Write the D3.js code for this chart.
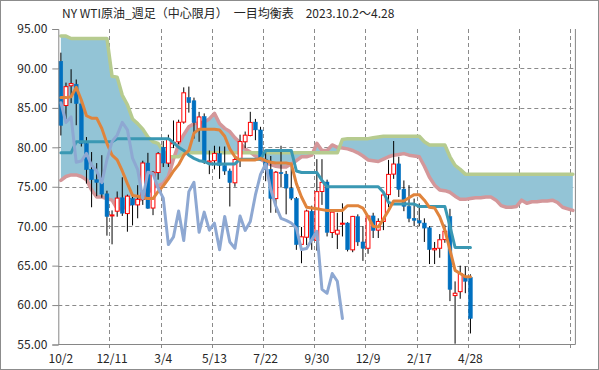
<!DOCTYPE html>
<html>
<head>
<meta charset="utf-8">
<script src="https://cdn.jsdelivr.net/npm/d3@7"></script>
<style>
body{margin:0;background:#fff}
svg text{font-family:"Noto Sans CJK JP","Noto Sans",sans-serif;fill:#262626}
</style>
</head>
<body>
<svg id="chart" width="599" height="370"></svg>
<script>
// x labels every 10 weeks
var dateLabels = ["10/2","12/11","3/4","5/13","7/22","9/30","12/9","2/17","4/28"]
var yTicks = [55,60,65,70,75,80,85,90,95]

// weekly candles 2023.10.2 - 2025.4.28
var open = [90.9,85.3,87.8,88.0,85.5,80.5,77.2,75.9,75.5,74.1,
71.3,71.9,73.6,71.6,73.5,72.7,73.4,78.0,72.3,76.8,
80.0,78.0,80.45,80.7,83.2,86.3,85.9,82.3,83.9,78.1,
78.3,79.2,77.7,77.0,75.5,78.4,80.7,81.5,83.2,82.2,
78.5,77.2,73.5,76.8,76.6,74.8,73.5,67.7,68.6,71.9,
68.2,74.4,75.6,69.2,69.0,70.25,70.4,67.0,71.2,68.0,
67.2,71.3,69.5,70.6,74.0,76.6,77.9,74.7,72.5,71.0,
70.7,70.4,69.8,67.0,67.2,68.3,71.2,61.2,61.7,63.6,
63.5]
var high = [92.0,88.2,89.9,88.6,86.0,81.3,79.4,78.0,79.0,74.5,
72.0,74.4,76.2,74.0,74.0,75.2,78.3,79.3,77.0,79.4,
80.8,81.6,83.4,83.5,87.6,87.7,86.3,84.5,84.3,79.6,
80.2,80.1,80.1,77.3,78.9,81.6,82.0,84.5,83.6,82.6,
79.4,78.9,77.0,80.2,77.0,77.6,73.7,69.9,72.1,72.6,
78.5,78.5,75.9,72.0,71.7,72.9,70.5,71.3,71.5,70.0,
71.4,71.7,71.0,74.2,78.4,80.8,78.8,75.8,75.2,73.5,
72.9,71.0,70.0,68.0,69.0,70.2,72.2,63.0,65.0,64.9,
63.9]
var low = [81.5,83.5,85.6,82.8,80.1,75.4,72.4,73.8,73.6,68.8,
67.7,71.2,71.3,69.3,70.1,71.0,72.7,72.2,71.4,75.9,
77.5,77.5,79.9,80.4,83.0,84.4,81.1,80.7,77.9,76.6,
77.2,76.0,76.5,72.5,75.0,77.5,79.9,81.4,80.9,78.4,
75.7,71.7,71.7,74.9,71.5,73.3,67.0,65.3,67.6,67.0,
66.9,72.7,68.7,68.5,67.1,68.7,66.8,66.7,67.5,65.6,
66.5,68.5,68.5,69.5,72.4,76.0,73.7,71.9,70.5,70.0,
70.0,68.0,65.2,65.2,66.0,67.9,60.5,55.1,60.8,61.5,
56.4]
var close = [82.79,87.69,88.08,85.54,80.51,77.17,75.89,75.54,74.07,71.23,
71.43,73.56,71.65,73.81,72.68,73.41,78.01,72.28,76.84,79.19,
78.01,81.04,80.63,83.17,86.91,85.66,83.14,83.85,78.11,78.26,
79.23,77.72,76.99,75.53,78.45,80.73,81.54,83.16,82.21,78.63,
77.16,73.52,76.84,76.65,74.83,73.55,67.67,68.65,71.92,68.18,
74.38,75.56,69.22,71.78,69.49,70.38,67.02,71.24,68.00,67.20,
71.29,69.46,70.60,73.96,76.57,77.88,74.66,72.53,71.00,70.74,
70.40,69.76,67.04,67.18,68.28,69.36,61.99,61.50,64.00,63.02,
58.30]

// conversion line (orange)
var tenkan = [86.3,86.3,86.4,87.6,86.0,84.0,83.7,83.7,82.4,80.5,
79.0,78.4,77.0,75.4,73.9,73.8,73.6,73.5,73.5,74.4,
75.1,76.0,77.0,77.8,79.0,79.6,81.8,82.3,82.3,82.3,
82.3,82.2,81.4,79.8,78.8,78.4,78.4,78.4,78.4,78.6,
78.3,78.1,78.0,78.0,78.0,77.9,75.4,73.7,72.4,72.3,
72.2,72.1,72.0,72.0,72.0,72.0,72.6,72.6,72.6,72.3,
71.2,70.0,69.9,70.9,72.0,73.2,73.2,73.2,73.6,74.0,
74.0,73.3,72.4,72.3,71.2,69.5,67.0,64.4,64.0,63.6,
63.6]
// base line (teal)
var kijun = [79.3,79.3,79.3,80.7,80.7,80.7,80.7,80.7,80.7,80.7,
80.7,81.1,81.1,81.1,81.1,81.1,81.1,81.1,81.1,81.1,
81.1,81.1,80.6,80.0,79.6,79.0,78.6,78.3,78.2,77.9,
77.9,77.9,77.9,77.9,77.9,78.5,78.5,78.5,78.5,78.5,
79.6,79.6,79.6,79.6,79.6,79.6,77.0,76.8,76.8,76.8,
76.8,75.8,75.0,75.0,75.0,75.0,75.0,75.0,75.0,75.0,
75.0,75.0,75.0,74.3,73.0,72.8,72.8,72.8,72.8,72.8,
72.5,72.5,72.5,72.5,72.5,72.5,70.0,67.3,67.3,67.3,
67.3]
// lagging span (light blue)
var chikou = [85.66,83.14,83.85,78.11,78.26,79.23,77.72,76.99,75.53,78.45,
80.73,81.54,83.16,82.21,78.63,77.16,73.52,76.84,76.65,74.83,
73.55,67.67,68.65,71.92,68.18,74.38,75.56,69.22,71.78,69.49,
70.38,67.02,71.24,68.00,67.20,71.29,69.46,70.60,73.96,76.57,
77.88,74.66,72.53,71.00,70.74,70.40,69.76,67.04,67.18,68.28,
69.36,61.99,61.50,64.00,63.02,58.30]
// leading span A (pink)
var spanA = [75.8,76.3,76.5,76.5,76.3,75.9,74.6,73.7,73.7,73.5,
73.3,72.2,72.2,72.6,73.0,73.2,73.5,74.2,75.0,75.1,
75.4,76.3,78.5,80.4,81.6,82.6,83.0,83.1,83.2,83.6,
84.3,83.0,82.4,82.0,81.2,80.6,79.8,79.4,78.9,78.5,
78.1,77.8,77.6,77.5,77.5,77.9,78.3,78.8,78.8,79.0,
80.5,79.6,79.6,80.3,80.0,79.9,79.8,79.6,79.3,78.9,
78.4,78.3,78.2,78.5,78.8,79.0,79.1,79.2,79.0,78.9,
78.8,77.6,76.2,75.2,74.6,74.5,74.3,73.8,73.4,73.4,
73.5,73.6,73.6,73.7,73.7,73.3,72.6,72.4,72.4,72.5,
73.3,72.9,73.1,73.1,73.2,73.2,73.3,73.0,72.4,72.2,
72.0]
// leading span B (green)
var spanB = [94.1,94.1,93.8,93.8,93.8,93.8,93.8,93.8,93.8,93.8,
89.0,88.9,86.6,85.4,83.6,83.0,82.3,81.3,80.7,80.5,
79.5,78.8,78.8,78.8,79.3,79.3,79.3,79.3,79.3,79.3,
79.3,79.3,79.3,79.3,79.3,79.3,79.3,79.3,79.3,79.3,
79.3,79.3,79.3,79.3,79.3,79.3,79.3,79.3,79.3,79.3,
79.3,79.3,79.3,79.3,79.3,81.0,81.1,81.1,81.1,81.1,
81.1,81.2,81.3,81.4,81.4,81.4,81.4,81.4,81.4,81.4,
81.4,80.7,80.3,80.3,80.3,80.3,78.8,77.7,77.2,76.6,
76.6,76.6,76.6,76.6,76.6,76.6,76.6,76.6,76.6,76.6,
76.6,76.6,76.6,76.6,76.6,76.6,76.6,76.6,76.6,76.6,
76.6]

var screen = {width:599,height:370}
var plot = {left:58.3,right:575.4,top:29,bottom:344.5}
var nCat = 101

var svg = d3.select("#chart")

svg.append("rect")
    .attr("x",0.5).attr("y",0.5)
    .attr("width",screen.width-1).attr("height",screen.height-1)
    .attr("fill","#fff").attr("stroke","#8c8c8c")

var x = d3.scaleBand().domain(d3.range(nCat)).range([plot.left,plot.right])
var xEdge = d3.scaleLinear().domain([0,nCat]).range([plot.left,plot.right])
var y = d3.scaleLinear().domain([55,95]).range([plot.bottom,plot.top])
var cx = function(i){ return x(i)+x.bandwidth()/2 }

// grid
svg.append("g").selectAll("line")
    .data(yTicks.filter(function(d){ return d>55 && d<95 }))
    .enter().append("line")
    .attr("x1",plot.left).attr("x2",plot.right)
    .attr("y1",function(d){ return Math.round(y(d))+0.5 })
    .attr("y2",function(d){ return Math.round(y(d))+0.5 })
    .attr("stroke","#8a8a8a").attr("stroke-dasharray","4,3")

svg.append("g").selectAll("line")
    .data(d3.range(10,nCat,10))
    .enter().append("line")
    .attr("x1",function(d){ return Math.round(xEdge(d))+0.5 })
    .attr("x2",function(d){ return Math.round(xEdge(d))+0.5 })
    .attr("y1",plot.top).attr("y2",plot.bottom+5)
    .attr("stroke","#8a8a8a").attr("stroke-dasharray","4,3")

// cloud
var idx = d3.range(nCat)
svg.append("path")
    .datum(idx)
    .attr("fill","#93c4d6")
    .attr("d",d3.area()
        .x(function(i){ return cx(i) })
        .y0(function(i){ return y(spanA[i]) })
        .y1(function(i){ return y(spanB[i]) }))

var drawLine = function(values,color,width)
{
    svg.append("path")
    .datum(values)
    .attr("fill","none")
    .attr("stroke",color)
    .attr("stroke-width",width)
    .attr("stroke-linejoin","round")
    .attr("stroke-linecap","round")
    .attr("d",d3.line()
        .x(function(d,i){ return cx(i) })
        .y(function(d){ return y(d) }))
}

drawLine(spanA,"#d4979a",3.5)
drawLine(spanB,"#b6cb8f",3.5)

// candles
var candles = svg.append("g")
var bodyW = 3.8
candles.selectAll("line")
    .data(close)
    .enter().append("line")
    .attr("x1",function(d,i){ return cx(i) })
    .attr("x2",function(d,i){ return cx(i) })
    .attr("y1",function(d,i){ return y(high[i]) })
    .attr("y2",function(d,i){ return y(low[i]) })
    .attr("stroke","#000").attr("stroke-width",1)

candles.selectAll("rect")
    .data(close)
    .enter().append("rect")
    .attr("x",function(d,i){ return cx(i)-bodyW/2 })
    .attr("width",bodyW)
    .attr("y",function(d,i){ return y(Math.max(open[i],d)) })
    .attr("height",function(d,i){ return Math.max(1,Math.abs(y(open[i])-y(d))) })
    .attr("fill",function(d,i){ return d>=open[i] ? "#fff" : "#0070c0" })
    .attr("stroke",function(d,i){ return d>=open[i] ? "#ff0000" : "#0070c0" })
    .attr("stroke-width",function(d,i){ return d>=open[i] ? 1 : 0.5 })

drawLine(kijun,"#3a98b3",3)
drawLine(tenkan,"#e0843c",3)
drawLine(chikou,"#8ea8d2",3)

// axes
var yAxis = d3.axisLeft(y).tickValues(yTicks).tickFormat(d3.format(".2f")).tickSize(6).tickPadding(5)
var gy = svg.append("g")
    .attr("transform","translate("+plot.left+",0)")
    .call(yAxis)
gy.selectAll("path,line").attr("stroke","#868686")
gy.selectAll("text").style("font-size","12px")

svg.append("line")
    .attr("x1",plot.left).attr("x2",plot.right)
    .attr("y1",plot.bottom).attr("y2",plot.bottom)
    .attr("stroke","#868686")
svg.append("line")
    .attr("x1",plot.right).attr("x2",plot.right)
    .attr("y1",plot.top).attr("y2",plot.bottom)
    .attr("stroke","#868686")

var xAxis = d3.axisBottom(x)
    .tickValues(d3.range(0,81,10))
    .tickFormat(function(i){ return dateLabels[i/10] })
    .tickSize(0).tickPadding(10)
var gx = svg.append("g")
    .attr("transform","translate(0,"+plot.bottom+")")
    .call(xAxis)
gx.select(".domain").remove()
gx.selectAll("text").style("font-size","12px")

svg.append("text")
    .attr("x",62).attr("y",18)
    .style("font-size","12px")
    .text("NY WTI原油_週足（中心限月）　一目均衡表　2023.10.2～4.28")
</script>
</body>
</html>
